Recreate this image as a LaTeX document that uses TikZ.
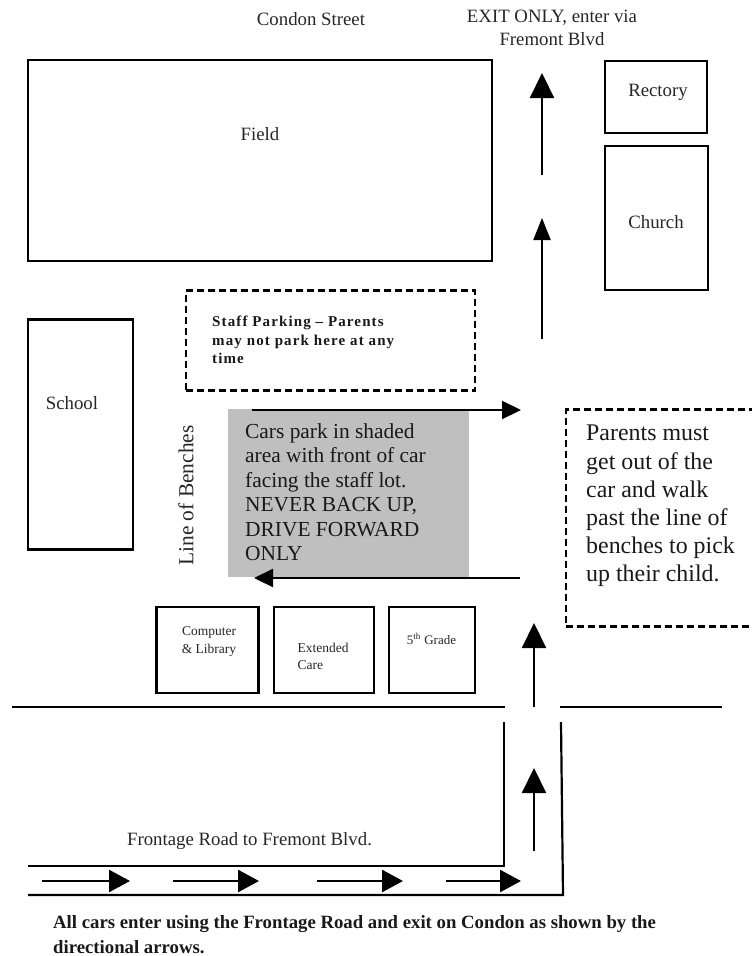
\documentclass[tikz,border=0pt]{standalone}
\usepackage{fontspec}
\setmainfont{Liberation Serif}
\usetikzlibrary{arrows.meta}
\tikzset{
 x=1pt,y=-1pt,
 box/.style={draw=black,line width=2.3pt,fill=white},
 dbox/.style={draw=black,line width=2.2pt,dash pattern=on 7pt off 4pt},
 wall/.style={draw=black,line width=2.2pt},
 arw/.style={draw=black,line width=2.2pt,-{Triangle[length=25pt,width=24pt]}},
 narw/.style={draw=black,line width=2.2pt,-{Triangle[length=22pt,width=17pt]}},
 sarw/.style={draw=black,line width=2.2pt,-{Triangle[length=19pt,width=18pt]}},
 barw/.style={draw=black,line width=2.6pt,-{Triangle[length=21pt,width=22pt]}},
 lbl/.style={inner sep=0pt,font=\fontsize{18.8}{21}\selectfont,text=black!85},
 sm/.style={inner sep=0pt,font=\fontsize{13.5}{17}\selectfont,align=left,text=black!85},
 big/.style={inner sep=0pt,font=\fontsize{21.4}{24.5}\selectfont,align=left,anchor=north west,text=black!90},
 bld/.style={inner sep=0pt,font=\fontsize{15}{18.6}\selectfont\bfseries\addfontfeature{LetterSpace=7.5},align=left,anchor=north west,text=black!90},
}
\begin{document}
\begin{tikzpicture}
\useasboundingbox (0,0) rectangle (752,956);
\node[box,minimum width=464pt,minimum height=201pt,inner sep=0pt] (field) at (260,160.5) {};
\node[lbl] (fieldt) at (260,134) {Field};
\node[box,minimum width=102pt,minimum height=72pt] (rectory) at (656,97) {};
\node[lbl] (rectoryt) at (658,92.5) {Rectory};
\node[box,minimum width=103pt,minimum height=144pt] (church) at (656.5,218) {};
\node[lbl] (churcht) at (656,222) {Church};
\node[box,minimum width=105pt,minimum height=230pt] (school) at (80.5,434.5) {};
\node[lbl] (schoolt) at (72,403.5) {School};
\node[dbox,minimum width=289pt,minimum height=100pt] (staff) at (330.5,340.5) {};
\node[bld] (stafft) at (212,316) {Staff Parking -- Parents\\may not park here at any\\time};
\node[fill=black!25,minimum width=241pt,minimum height=168pt,inner sep=0pt] (shade) at (348.5,493) {};
\node[big] (shadet) at (245,423) {Cars park in shaded\\area with front of car\\facing the staff lot.\\NEVER BACK UP,\\DRIVE FORWARD\\ONLY};
\node[rotate=90,inner sep=0pt,font=\fontsize{21.4}{24}\selectfont,text=black!85] (benches) at (186,495.5) {Line of Benches};
\node[dbox,minimum width=190pt,minimum height=217pt] (parents) at (661,518) {};
\node[big,font=\fontsize{23.9}{28.2}\selectfont] (parentst) at (586,425) {Parents must\\get out of the\\car and walk\\past the line of\\benches to pick\\up their child.};
\node[box,minimum width=102pt,minimum height=86pt] (comp) at (207.5,650) {};
\node[sm,align=center,font=\fontsize{13.5}{18}\selectfont] (compt) at (209,641) {Computer\\\&\ Library};
\node[box,minimum width=100pt,minimum height=86pt] (ext) at (324,650) {};
\node[sm] (extt) at (323,656) {Extended\\Care};
\node[box,minimum width=86pt,minimum height=86pt] (fifth) at (432,650) {};
\node[sm,font=\fontsize{13}{15}\selectfont] (fiftht) at (431.5,639) {5\textsuperscript{th} Grade};
\node[lbl] (condon) at (311,19.5) {Condon Street};
\node[lbl,align=center,font=\fontsize{18.8}{23}\selectfont] (exit) at (552,28) {EXIT ONLY, enter via\\Fremont Blvd};
\node[lbl] (front) at (249.5,841) {Frontage Road to Fremont Blvd.};
\node[bld,font=\fontsize{18.75}{25}\selectfont\bfseries] (note) at (53,915.5) {All cars enter using the Frontage Road and exit on Condon as shown by the\\directional arrows.};
\coordinate (a1s) at (542,175); \coordinate (a1e) at (542,73);
\coordinate (a2s) at (542,339); \coordinate (a2e) at (542,218);
\coordinate (a3s) at (252,410); \coordinate (a3e) at (521,410);
\coordinate (a4s) at (520,578); \coordinate (a4e) at (254,578);
\coordinate (a5s) at (534,707); \coordinate (a5e) at (534,623);
\coordinate (a6s) at (534,851); \coordinate (a6e) at (534,768);
\draw[arw] (a1s) -- (a1e);
\draw[narw] (a2s) -- (a2e);
\draw[sarw] (a3s) -- (a3e);
\draw[sarw] (a4s) -- (a4e);
\draw[arw] (a5s) -- (a5e);
\draw[arw] (a6s) -- (a6e);
\coordinate (b1) at (42,881); \coordinate (b2) at (130,881);
\coordinate (b3) at (173,881); \coordinate (b4) at (259,881);
\coordinate (b5) at (317,881); \coordinate (b6) at (403,881);
\coordinate (b7) at (446,881); \coordinate (b8) at (521,881);
\draw[barw] (b1) -- (b2);
\draw[barw] (b3) -- (b4);
\draw[barw] (b5) -- (b6);
\draw[barw] (b7) -- (b8);
\coordinate (w1) at (12,707); \coordinate (w2) at (505,707);
\coordinate (w3) at (560,707); \coordinate (w4) at (722,707);
\coordinate (w5) at (28,866); \coordinate (w6) at (504,866); \coordinate (w7) at (504,722);
\coordinate (w8) at (28,895); \coordinate (w9) at (563,895); \coordinate (w10) at (561,722);
\draw[wall] (w1) -- (w2);
\draw[wall] (w3) -- (w4);
\draw[wall] (w5) -- (w6) -- (w7);
\draw[wall] (w8) -- (w9) -- (w10);
\end{tikzpicture}
\end{document}
